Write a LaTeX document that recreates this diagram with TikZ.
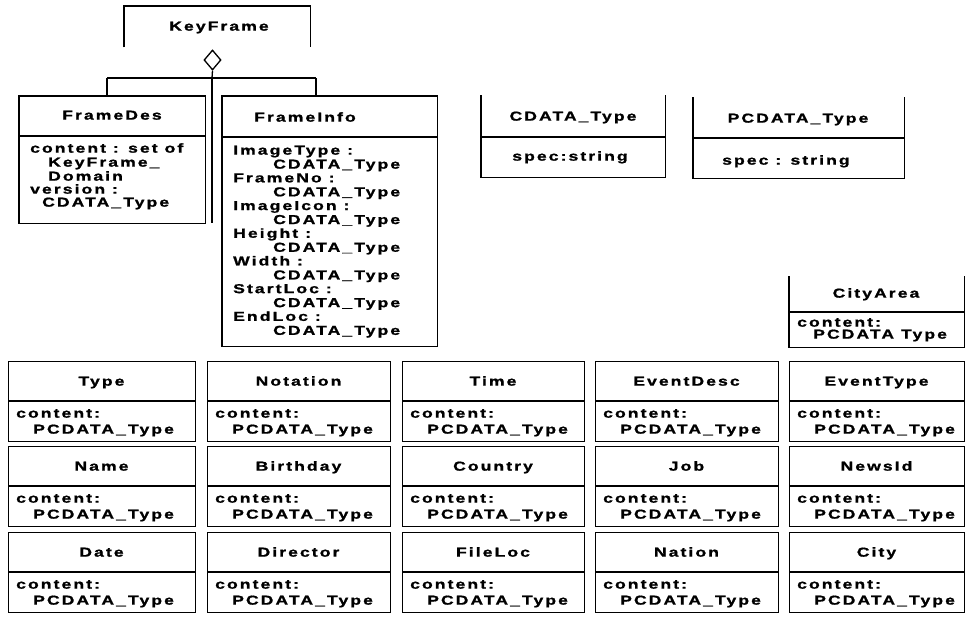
\documentclass[tikz,border=0pt]{standalone}
\usepackage{fontspec}
\setmainfont{Liberation Sans}[FakeStretch=1.35,LetterSpace=16,FakeBold=1.2]
\usetikzlibrary{shapes.geometric}
\newcommand\clsframe[5]{\node[frame, minimum width={(#4-#2)*1pt}, minimum height={(#5-#3)*1pt}] (#1) at (#2,#3) {};}
\newcommand\gbox[5]{%
  \node[frame, draw, lw, minimum width={(#3-#2)*1pt}, minimum height=80pt] (#1) at (#2,#4) {};
  \draw[lw] (#2,#4+40) -- (#3,#4+40);
  \node[txt] (#1-t) at ({(#2+#3)/2},#4+20) {#5};
  \node[lt] (#1-c) at (#2+8,#4+52) {content:};
  \node[lt] (#1-p) at (#2+25,#4+68) {PCDATA\_Type};
}
\begin{document}
\begin{tikzpicture}[x=1pt,y=-1pt,
  lw/.style={line width=1.3pt},
  txt/.style={inner sep=0pt, font=\bfseries\fontsize{13}{14}\selectfont, text height=9.3pt, text depth=0pt},
  lt/.style={txt, anchor=west},
  frame/.style={draw=none, inner sep=0pt, anchor=north west},
]
\useasboundingbox[fill=white] (0,0) rectangle (966,616);

% KeyFrame (open bottom)
\clsframe{kf}{124}{6}{310}{47}
\draw[lw] (kf.south west) -- (kf.north west) -- (kf.north east) -- (kf.south east);
\node[txt] (kf-t) at (219,26) {KeyFrame};

% aggregation diamond
\node[diamond, draw, lw, inner sep=0pt, minimum width=17pt, minimum height=20pt] (dia) at (212.5,60) {};

% FrameDes
\clsframe{fd}{19}{96}{205}{223}
\draw[lw] (fd.north west) rectangle (fd.south east);
\draw[lw] (19,136) -- (205,136);
\node[txt] (fd-t) at (112,115) {FrameDes};
\node[lt] (fd-1) at (30,148) {content : set of};
\node[lt] (fd-2) at (48,162) {KeyFrame\_};
\node[lt] (fd-3) at (48,176) {Domain};
\node[lt] (fd-4) at (30,189) {version :};
\node[lt] (fd-5) at (42,202) {CDATA\_Type};

% FrameInfo
\clsframe{fi}{222}{96}{437}{346}
\draw[lw] (fi.north west) rectangle (fi.south east);
\draw[lw] (222,137) -- (437,137);
\node[txt] (fi-t) at (305,117) {FrameInfo};
\foreach \lab [count=\i from 0] in {ImageType :, FrameNo :, ImageIcon :, Height :, Width :, StartLoc :, EndLoc :}{
  \node[lt] (fi-a\i) at (233,{150+27.7*\i}) {\lab};
  \node[lt] (fi-b\i) at (273,{164+27.7*\i}) {CDATA\_Type};
}

% tree connectors
\coordinate (j) at (212,78);
\coordinate (jl) at (107,78);
\coordinate (jr) at (316,78);
\draw[lw] (dia.south) -- (j);
\draw[lw] (jl) -- (jr);
\draw[lw] (jl) -- (jl |- fd.north);
\draw[lw] (jr) -- (jr |- fi.north);
\draw[lw] (j) -- (j |- fd.south);

% CDATA_Type (open top)
\clsframe{cd}{481}{95}{665}{177}
\draw[lw] (cd.north west) -- (cd.south west) -- (cd.south east) -- (cd.north east);
\draw[lw] (481,137) -- (665,137);
\node[txt] (cd-t) at (573,116) {CDATA\_Type};
\node[txt] (cd-s) at (570,156) {spec:string};

% PCDATA_Type (open top)
\clsframe{pd}{693}{97}{904}{178}
\draw[lw] (pd.north west) -- (pd.south west) -- (pd.south east) -- (pd.north east);
\draw[lw] (693,138) -- (904,138);
\node[txt] (pd-t) at (798,118) {PCDATA\_Type};
\node[lt] (pd-s) at (722,160) {spec : string};

% CityArea (open top)
\clsframe{ca}{789}{276}{964}{347}
\draw[lw] (ca.north west) -- (ca.south west) -- (ca.south east) -- (ca.north east);
\draw[lw] (789,312) -- (964,312);
\node[txt] (ca-t) at (876,293) {CityArea};
\node[lt] (ca-c) at (797,322) {content:};
\node[lt] (ca-p) at (813,334) {PCDATA Type};

% grid
\gbox{type}{8}{195}{361}{Type}
\gbox{notation}{207}{390}{361}{Notation}
\gbox{time}{402}{584}{361}{Time}
\gbox{eventdesc}{595}{778}{361}{EventDesc}
\gbox{eventtype}{789}{964}{361}{EventType}
\gbox{name}{8}{195}{446}{Name}
\gbox{birthday}{207}{390}{446}{Birthday}
\gbox{country}{402}{584}{446}{Country}
\gbox{job}{595}{778}{446}{Job}
\gbox{newsid}{789}{964}{446}{NewsId}
\gbox{date}{8}{195}{532}{Date}
\gbox{director}{207}{390}{532}{Director}
\gbox{fileloc}{402}{584}{532}{FileLoc}
\gbox{nation}{595}{778}{532}{Nation}
\gbox{city}{789}{964}{532}{City}
\end{tikzpicture}
\end{document}
